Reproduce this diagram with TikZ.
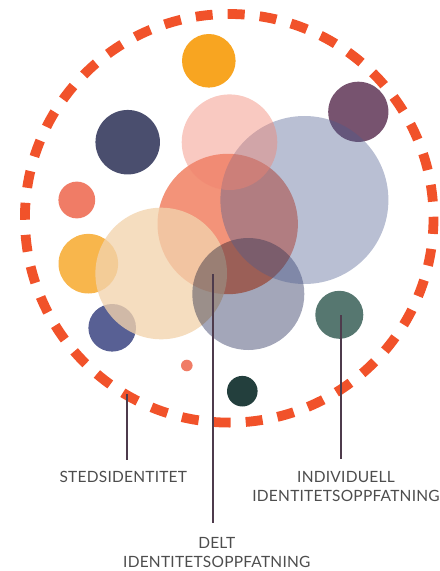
\documentclass[tikz,border=0pt]{standalone}
\usepackage{fontspec}
\setmainfont{Lato}
\definecolor{ringc}{HTML}{F1522A}
\definecolor{orangetop}{HTML}{F8A521}
\definecolor{plum}{HTML}{77536F}
\definecolor{navyc}{HTML}{4A4E6E}
\definecolor{salmonsm}{HTML}{F07C66}
\definecolor{orangel}{HTML}{F8B64C}
\definecolor{bluesm}{HTML}{586094}
\definecolor{greenc}{HTML}{567770}
\definecolor{darkgreen}{HTML}{233F3D}
\definecolor{salmonbig}{HTML}{F39379}
\definecolor{beigec}{HTML}{F2D3AD}
\definecolor{grayc}{HTML}{A3A6B9}
\definecolor{lavc}{HTML}{4B5B8E}
\definecolor{pinkc}{HTML}{F0826F}
\definecolor{leadc}{HTML}{4E3B4C}
\definecolor{textc}{HTML}{4D4D4D}
\tikzset{
  dot/.style={circle, inner sep=0pt, outer sep=0pt, draw=none, fill=#1},
  lead/.style={draw=leadc, line width=1.9bp},
  lbl/.style={text=textc, align=center, inner sep=0pt, font=\fontsize{15.5bp}{19bp}\selectfont\addfontfeature{LetterSpace=1.5}},
  ring/.style={draw=ringc, line width=9.8bp, dash pattern=on 17bp off 15.09bp, dash phase=1.37bp}
}
\begin{document}
\begin{tikzpicture}[x=1bp, y=-1bp]
\useasboundingbox (0,0) rectangle (440,571);
% small opaque circles
\node[dot=orangetop, minimum size=53.6bp] (otop) at (208.8,60.8) {};
\node[dot=plum, minimum size=60.2bp] (plum) at (358.3,111.8) {};
\node[dot=navyc, minimum size=64.5bp] (navy) at (127.7,142.2) {};
\node[dot=salmonsm, minimum size=36.8bp] (ssm) at (76.8,200) {};
\node[dot=orangel, minimum size=59.6bp] (oleft) at (88.3,263.7) {};
\node[dot=bluesm, minimum size=47.6bp] (bsm) at (112.2,327.8) {};
\node[dot=greenc, minimum size=48bp] (green) at (339.3,314.8) {};
\node[dot=salmonsm, minimum size=11.6bp] (tiny) at (186.8,365.5) {};
\node[dot=darkgreen, minimum size=30.6bp] (dgreen) at (242.3,391.2) {};
% large overlapping circles
\node[dot=salmonbig, minimum size=140.4bp] (salmon) at (227.7,224) {};
\node[dot=beigec, fill opacity=0.78, minimum size=131.6bp] (beige) at (161.2,273.5) {};
\begin{scope}[blend mode=multiply]
\node[dot=grayc, minimum size=112bp] (gray) at (248.3,294) {};
\end{scope}
\node[dot=lavc, fill opacity=0.39, minimum size=168bp] (lav) at (304.4,200) {};
\node[dot=pinkc, fill opacity=0.43, minimum size=95.6bp] (pink) at (229.5,142.2) {};
% dashed ring
\coordinate (rc) at (229.2,218.3);
\draw[ring] (rc) circle[radius=204.3];
% labels (anchor base = baseline of last line)
\node[lbl, anchor=base] (sted) at (123.3,482.5) {STEDSIDENTITET};
\node[lbl, anchor=base] (indiv) at (346,501.5) {INDIVIDUELL\\IDENTITETSOPPFATNING};
\node[lbl, anchor=base] (delt) at (216.8,567.7) {DELT\\IDENTITETSOPPFATNING};
% leaders
\coordinate (sA) at (127,394);
\coordinate (sB) at (127,460);
\coordinate (dA) at (212.7,274.3);
\coordinate (dB) at (212.7,522.7);
\coordinate (iA) at (341,315);
\coordinate (iB) at (341,458.7);
\draw[lead] (sA) -- (sB);
\draw[lead] (dA) -- (dB);
\draw[lead] (iA) -- (iB);
\end{tikzpicture}
\end{document}
